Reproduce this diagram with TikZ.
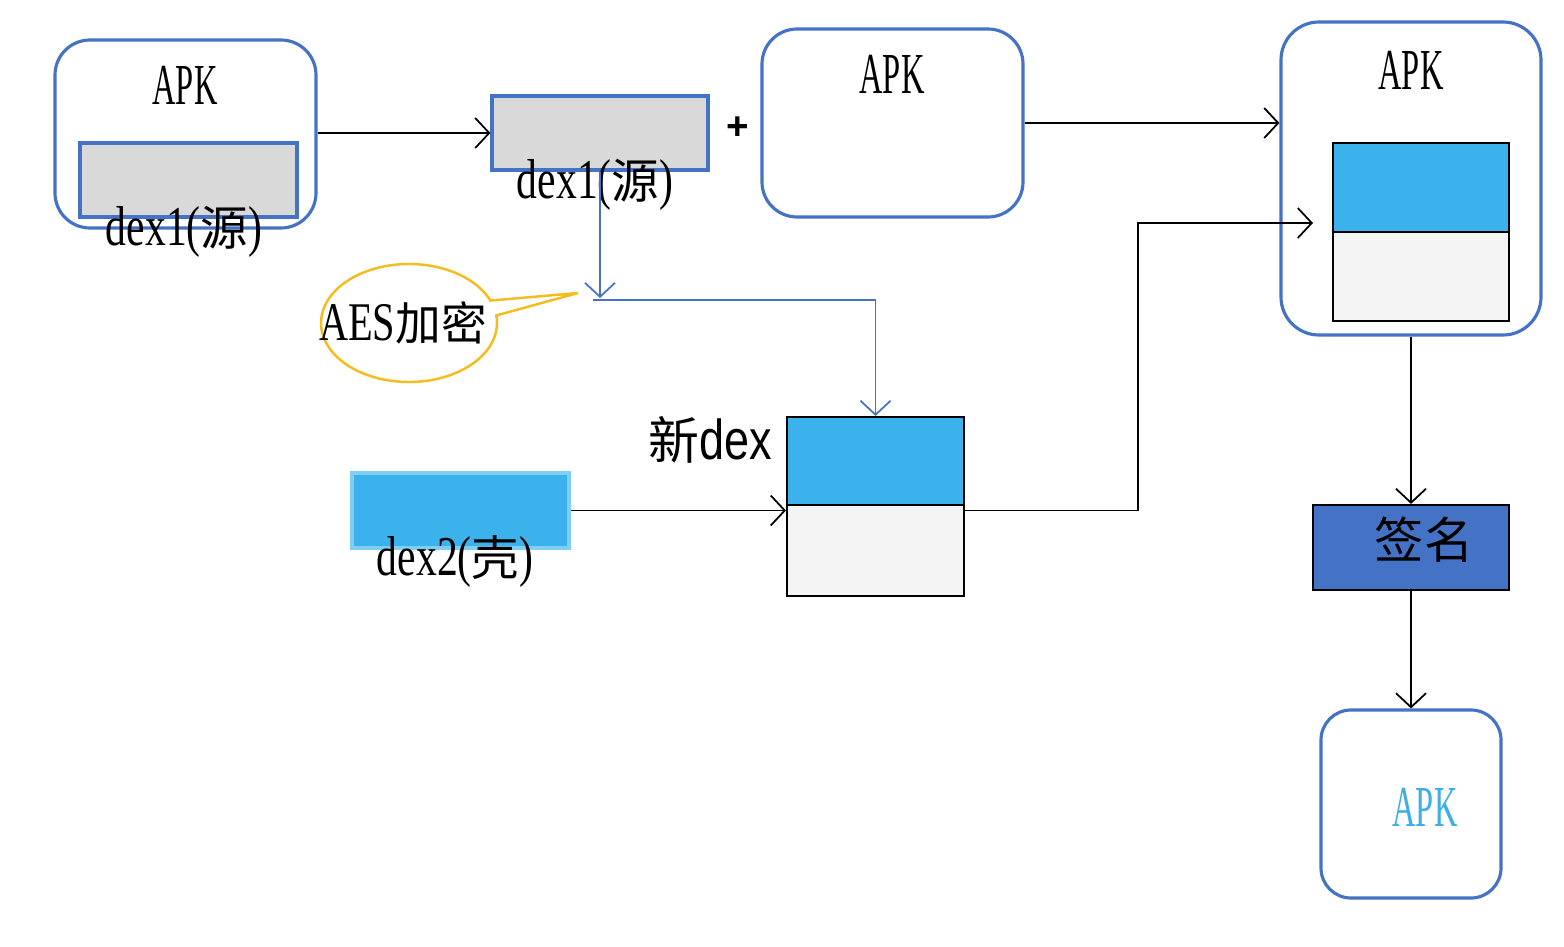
\documentclass[tikz,border=0pt]{standalone}
\usepackage{fontspec}
\setmainfont{Liberation Serif}
\newfontfamily\apkfont[FakeStretch=0.56]{Liberation Serif}
\newfontfamily\dexfont[FakeStretch=0.74]{Liberation Serif}
\newfontfamily\condsans[FakeStretch=0.8]{Liberation Sans}
\newfontfamily\plusfont{Liberation Sans}
\newfontfamily\cjk{Noto Sans CJK SC}
\usepackage{tikz}
\usetikzlibrary{arrows.meta}
\usetikzlibrary{shapes.callouts}

\definecolor{apkblue}{HTML}{4472C4}
\definecolor{dexgray}{HTML}{D9D9D9}
\definecolor{shellblue}{HTML}{3BB2EC}
\definecolor{shellline}{HTML}{7FCFF2}
\definecolor{palegray}{HTML}{F4F4F4}
\definecolor{aesyellow}{HTML}{F4BC1C}
\definecolor{apkcyan}{HTML}{3DAEE9}

\tikzset{
	apkbox/.style={draw=apkblue, line width=0.9pt, rounded corners=0.35cm},
	graybox/.style={draw=apkblue, fill=dexgray, line width=0.9pt},
	halfbox/.style={draw=black, line width=0.6pt},
	apktext/.style={font=\apkfont\fontsize{16.5}{20}\selectfont, inner sep=0pt},
	dextext/.style={font=\dexfont\fontsize{16}{20}\selectfont, inner sep=0pt},
	arr/.style={-{Straight Barb[length=1.4mm,width=3mm]}, line width=0.5pt},
}

\begin{document}
\begin{tikzpicture}
		% Boxes, labels and arrows:
		\useasboundingbox (0, 0) rectangle (15.64, 9.46);
		\node[apkbox, minimum width=2.61cm, minimum height=1.88cm](apk1) at (1.855, 8.12){};
		\node[apktext](apk1t) at (1.85, 8.61){APK};
		\node[graybox, minimum width=2.17cm, minimum height=0.74cm](src1) at (1.885, 7.66){};
		\node[dextext](src1t) at (1.84, 7.14){dex1({\cjk\fontsize{13.5}{16}\selectfont 源})};
		\node[graybox, minimum width=2.16cm, minimum height=0.74cm](src2) at (6.00, 8.13){};
		\node[dextext](src2t) at (5.95, 7.61){dex1({\cjk\fontsize{13.5}{16}\selectfont 源})};
		\node[font=\plusfont\bfseries\fontsize{11}{14}\selectfont, inner sep=0pt](plus) at (7.38, 8.18){+};
		\node[apkbox, minimum width=2.61cm, minimum height=1.88cm](apk2) at (8.925, 8.23){};
		\node[apktext](apk2t) at (8.92, 8.72){APK};
		\node[apkbox, rounded corners=0.38cm, minimum width=2.60cm, minimum height=3.13cm](apk3) at (14.11, 7.675){};
		\node[apktext](apk3t) at (14.11, 8.76){APK};
		\node[halfbox, fill=shellblue, minimum width=1.76cm, minimum height=0.89cm](stacktop) at (14.21, 7.585){};
		\node[halfbox, fill=palegray, minimum width=1.76cm, minimum height=0.89cm](stackbot) at (14.21, 6.695){};
		\node[halfbox, fill=apkblue, minimum width=1.96cm, minimum height=0.85cm](sign) at (14.11, 3.985){};
		\node[font=\cjk\fontsize{14}{18}\selectfont, inner sep=0pt](signt) at (14.24, 4.06){签名};
		\node[apkbox, rounded corners=0.3cm, minimum width=1.80cm, minimum height=1.88cm](apk4) at (14.11, 1.42){};
		\node[apktext, text=apkcyan](apk4t) at (14.25, 1.39){APK};
		\node[ellipse callout, draw=aesyellow, line width=0.7pt, minimum width=1.76cm, minimum height=1.18cm, inner sep=0pt, callout absolute pointer={(5.78, 6.53)}](aes) at (4.09, 6.23){};
		\node[dextext, font=\dexfont\fontsize{15.5}{18}\selectfont](aest) at (4.03, 6.23){AES{\cjk\fontsize{13}{16}\selectfont 加密}};
		\node[halfbox, fill=shellblue, minimum width=1.77cm, minimum height=0.88cm](newtop) at (8.755, 4.85){};
		\node[halfbox, fill=palegray, minimum width=1.77cm, minimum height=0.91cm](newbot) at (8.755, 3.955){};
		\node[inner sep=0pt](newt) at (7.10, 5.06){{\cjk\fontsize{14.5}{18}\selectfont 新}{\condsans\fontsize{16}{20}\selectfont dex}};
		\node[draw=shellline, fill=shellblue, line width=0.9pt, minimum width=2.17cm, minimum height=0.75cm](dex2) at (4.605, 4.355){};
		\node[dextext](dex2t) at (4.55, 3.84){dex2({\cjk\fontsize{13.5}{16}\selectfont 壳})};
		\coordinate (aesend) at (6.00, 6.48);
		\coordinate (aesline) at (5.93, 6.46);
		\coordinate (bend) at (11.38, 7.23);
		\coordinate (stackin) at (13.13, 7.23);
		\draw[arr] (apk1.east |- src2) -- (src2.west);
		\draw[arr] (apk2.east) -- (apk2.east -| apk3.west);
		\draw[arr, apkblue] (src2.south) -- (aesend);
		\draw[arr, apkblue] (aesline) -| (newtop.north);
		\draw[arr] (dex2.east) -- (dex2 -| newbot.west);
		\draw[arr] (newbot.east |- dex2) -| (bend) -- (stackin);
		\draw[arr] (apk3.south) -- (sign.north);
		\draw[arr] (sign.south) -- (apk4.north);
	\end{tikzpicture}
\end{document}
